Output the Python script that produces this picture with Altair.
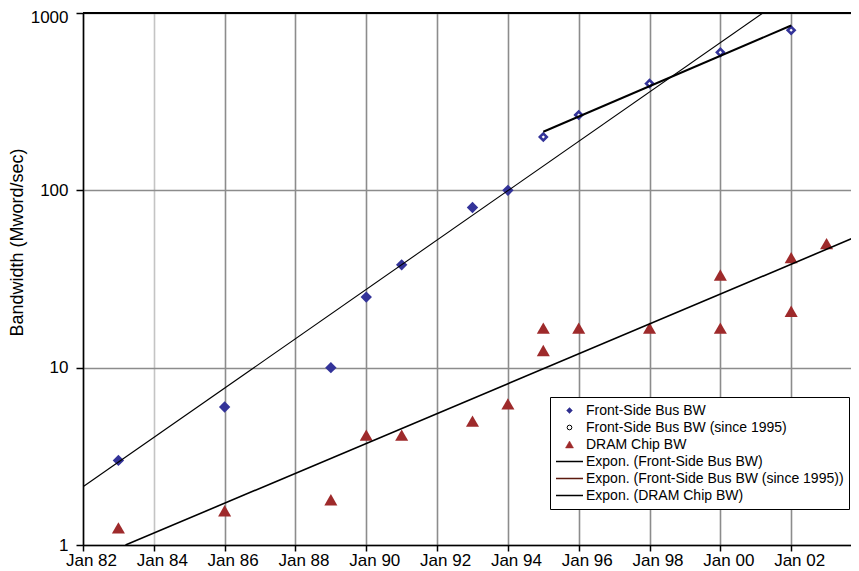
import altair as alt
import pandas as pd

FONT = "Liberation Sans"

# ---- data ----
fsb_years = [1983, 1986, 1989, 1990, 1991, 1993, 1994]
fsb_bw = [3, 6, 10, 25, 38, 80, 100]

fsb95_years = [1995, 1996, 1998, 2000, 2002]
fsb95_bw = [200, 266, 400, 600, 800]

dram_years = [1983, 1986, 1989, 1990, 1991, 1993, 1994, 1995, 1995, 1996,
              1998, 2000, 2000, 2002, 2002, 2003]
dram_bw = [1.25, 1.56, 1.8, 4.17, 4.17, 5, 6.25, 12.5, 16.7, 16.7,
           16.7, 16.7, 33.3, 20.8, 41.7, 50]

# exponential trend lines (start / end)
trend_fsb_years = [1982, 2001.2]
trend_fsb_bw = [2.13, 1000]
trend_fsb95_years = [1995, 2002]
trend_fsb95_bw = [214, 850]
trend_dram_years = [1983.2, 2003.92]
trend_dram_bw = [1.0, 55.6]

series = ["Front-Side Bus BW", "Front-Side Bus BW (since 1995)", "DRAM Chip BW",
          "Expon. (Front-Side Bus BW)", "Expon. (Front-Side Bus BW (since 1995))",
          "Expon. (DRAM Chip BW)"]

year_ticks = list(range(1982, 2003, 2))
bw_ticks = [1, 10, 100, 1000]
x_domain = [1982, 2003.69]
y_domain = [1, 1000]

BLUE = "#333399"
RED = "#9e2a2b"
GRID = "#8c8c8c"

x_enc = alt.X(
    "year:Q",
    scale=alt.Scale(domain=x_domain, nice=False, zero=False),
    axis=alt.Axis(
        values=year_ticks, labelExpr="'Jan ' + slice(toString(datum.value), 2)",
        grid=True,
        gridColor={"condition": {"test": "datum.value === 1984", "value": "#c4c4c4"}, "value": GRID},
        gridWidth=1.6, domainColor="black", domainWidth=1.5, tickColor="black",
        tickSize=6, tickWidth=1.5, labelFont=FONT, labelFontSize=17, labelColor="black",
        labelPadding=1, labelOffset=8, labelFlush=False, labelOverlap=False, title=None,
    ),
)
y_enc = alt.Y(
    "bw:Q",
    scale=alt.Scale(type="log", domain=y_domain, nice=False),
    axis=alt.Axis(
        values=bw_ticks, format="d", grid=True, gridColor=GRID, gridWidth=1.6,
        domainColor="black", domainWidth=1.5, tickColor="black", tickSize=7,
        tickWidth=1.5, labelFont=FONT, labelFontSize=17, labelColor="black",
        labelPadding=8, labelFlush=False, labelOverlap=False,
        labelOffset={"condition": {"test": "datum.value === 1000", "value": 4}, "value": 0},
        title="Bandwidth (Mword/sec)", titleFont=FONT, titleFontSize=18,
        titleFontWeight="normal", titleColor="black", titleX=-61, titleY=229,
        titleAngle=270, titleAlign="center", titleBaseline="alphabetic",
    ),
)

fsb_df = pd.DataFrame({"year": fsb_years, "bw": fsb_bw})
fsb95_df = pd.DataFrame({"year": fsb95_years, "bw": fsb95_bw})
dram_df = pd.DataFrame({"year": dram_years, "bw": dram_bw})
t_fsb = pd.DataFrame({"year": trend_fsb_years, "bw": trend_fsb_bw})
t_fsb95 = pd.DataFrame({"year": trend_fsb95_years, "bw": trend_fsb95_bw})
t_dram = pd.DataFrame({"year": trend_dram_years, "bw": trend_dram_bw})

top_border = alt.Chart(fsb_df).mark_rule(color="black", strokeWidth=2).encode(
    y=alt.datum(1000, scale=alt.Scale(type="log", domain=y_domain, nice=False))
)

pts_fsb = alt.Chart(fsb_df).mark_point(
    shape="diamond", filled=True, size=130, color=BLUE, opacity=1
).encode(x=x_enc, y=y_enc)
pts_fsb95 = alt.Chart(fsb95_df).mark_point(
    shape="diamond", size=48, fill="white", fillOpacity=1, stroke=BLUE,
    strokeWidth=2.6, opacity=1
).encode(x=x_enc, y=y_enc)
pts_dram = alt.Chart(dram_df).mark_point(
    shape="triangle-up", filled=True, size=170, color=RED, opacity=1
).encode(x=x_enc, y=y_enc)

ln_fsb = alt.Chart(t_fsb).mark_line(color="black", strokeWidth=1.1, clip=True).encode(x=x_enc, y=y_enc)
ln_fsb95 = alt.Chart(t_fsb95).mark_line(color="black", strokeWidth=2, clip=True).encode(x=x_enc, y=y_enc)
ln_dram = alt.Chart(t_dram).mark_line(color="black", strokeWidth=1.6, clip=True).encode(x=x_enc, y=y_enc)

leg_fill = ["#2e2e8f", "white", RED, "transparent", "transparent", "transparent"]
leg_stroke = ["#2e2e8f", "black", RED, "black", "#5c1a0e", "black"]
leg_shape = ["diamond", "circle", "triangle-up", "stroke", "stroke", "stroke"]
leg_size = [34, 22, 64, 729, 729, 729]
leg_sw = [0.5, 1, 0.5, 1.3, 1.3, 1.3]

legend_layer = alt.Chart(alt.Data(values=[])).mark_point(opacity=1).encode(
    fill=alt.Fill("series:N", scale=alt.Scale(domain=series, range=leg_fill), legend=alt.Legend(title=None)),
    stroke=alt.Stroke("series:N", scale=alt.Scale(domain=series, range=leg_stroke), legend=alt.Legend(title=None)),
    shape=alt.Shape("series:N", scale=alt.Scale(domain=series, range=leg_shape), legend=alt.Legend(title=None)),
    size=alt.Size("series:N", scale=alt.Scale(type="ordinal", domain=series, range=leg_size), legend=alt.Legend(title=None)),
    strokeWidth=alt.StrokeWidth("series:N", scale=alt.Scale(type="ordinal", domain=series, range=leg_sw), legend=alt.Legend(title=None)),
)

chart = alt.layer(
    top_border, pts_fsb, pts_fsb95, pts_dram, ln_fsb, ln_fsb95, ln_dram, legend_layer
).properties(
    width=768, height=532,
    padding={"left": 75, "top": 5, "right": 0, "bottom": 30},
    autosize=alt.AutoSizeParams(type="none"),
).configure_view(stroke=None).configure_legend(
    orient="none", legendX=467, legendY=384, fillColor="white", strokeColor="black",
    padding=5, cornerRadius=0, labelFont=FONT, labelFontSize=14, labelColor="black",
    clipHeight=17, rowPadding=0, labelOffset=2, symbolOpacity=1, labelLimit=500,
)

chart.save("out.html", embed_options={"renderer": "svg", "actions": False})
